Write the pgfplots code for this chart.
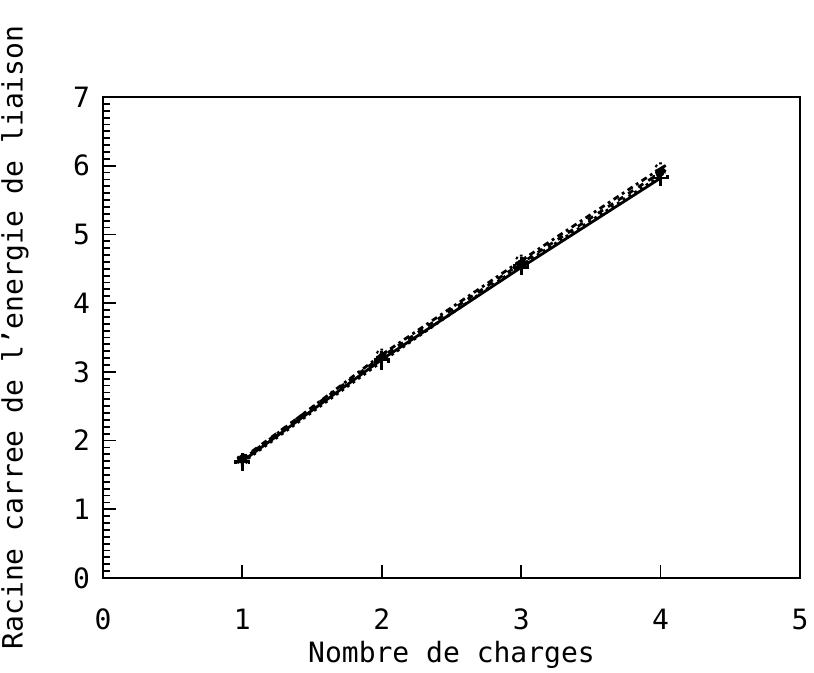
\documentclass[border=0pt]{standalone}
\usepackage{pgfplots}
\pgfplotsset{compat=1.18}
\usepackage{fontspec}
\setmainfont{DejaVu Sans Mono}
\setmonofont{DejaVu Sans Mono}
\begin{document}
\begin{tikzpicture}
\begin{axis}[
  name=ax,
  width=348.5pt, height=240.5pt, scale only axis,
  xmin=0, xmax=5, ymin=0, ymax=7,
  xtick={0,1,2,3,4,5}, ytick={0,1,...,7},
  minor y tick num=9,
  tick align=inside,
  xtick pos=bottom, ytick pos=left,
  major tick length=6.5pt, minor tick length=3.5pt,
  axis line style={line width=0.9pt},
  every tick/.style={line width=0.9pt, black},
  /pgf/number format/assume math mode=true,
  tick label style={font=\fontsize{14}{16}\selectfont},
  xticklabel style={yshift=-12pt},
  yticklabel style={xshift=-3pt},
  label style={font=\fontsize{14}{16}\selectfont},
  xlabel={Nombre de charges},
  ylabel={Racine carree de l'energie de liaison},
  xlabel style={at={(axis description cs:0.5,-0.16)}, anchor=center},
  ylabel style={at={(axis description cs:-0.1263,0.5)}, anchor=center},
]
\addplot[black, line width=1.4pt, mark=+, mark size=4pt] coordinates {(1,1.70) (2,3.18) (3,4.52) (4,5.82)};
\addplot[black, line width=1.4pt, dashed, mark=*, mark size=2pt] coordinates {(1,1.74) (2,3.22) (3,4.58) (4,5.90)};
\addplot[black, line width=1.4pt, dotted, mark=+, mark size=4pt] coordinates {(1,1.68) (2,3.15) (3,4.55) (4,5.85)};
\addplot[black, line width=1.4pt, dashdotted, mark=asterisk, mark size=3pt] coordinates {(1,1.72) (2,3.25) (3,4.62) (4,5.96)};
\end{axis}
\pgfresetboundingbox
\path (ax.south west) ++(-51.5pt,-47.5pt) rectangle ++(407pt,336.5pt);
\end{tikzpicture}
\end{document}
